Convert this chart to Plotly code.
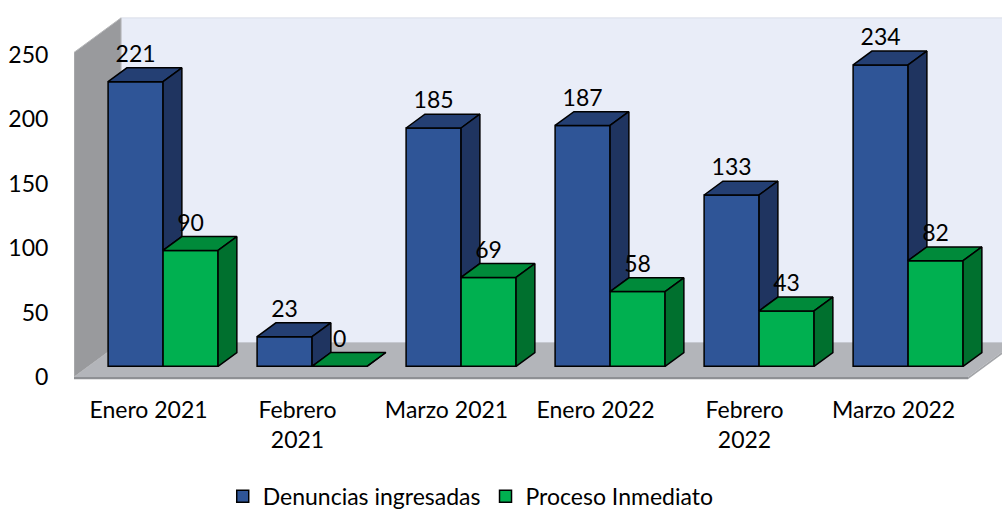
import plotly.graph_objects as go

# ---------------- data ----------------
categories = ["Enero 2021", "Febrero<br>2021", "Marzo 2021", "Enero 2022", "Febrero<br>2022", "Marzo 2022"]
denuncias = [221, 23, 185, 187, 133, 234]
proceso = [90, 0, 69, 58, 43, 82]
series_names = ["Denuncias ingresadas", "Proceso Inmediato"]
y_ticks = [0, 50, 100, 150, 200, 250]

# ---------------- styling / geometry ----------------
FONT = "Lato"
FS = 23
X0, X1 = -0.5, 5.728
Y0, Y1 = -3.1, 279.5
DX, DY = 0.3154, 26.8          # full depth of the 3D box (data units)
WALL_TOP = 252
F0, FD = 0.31, 0.40            # bar front position and bar depth (fraction of box depth)
BW = 0.369                     # bar width (category units)

blue = dict(front="#2F5597", top="#243F73", side="#1F3460")
green = dict(front="#00B050", top="#008A3A", side="#00702E")

base = F0 * DY
shift = F0 * DX
bdx, bdy = FD * DX, FD * DY
n = len(categories)

x_blue = [i + shift - BW / 2 for i in range(n)]
x_green = [i + shift + BW / 2 for i in range(n)]

fig = go.Figure()

# front faces as bars
fig.add_trace(go.Bar(x=x_blue, y=denuncias, base=[base] * n, width=BW, name=series_names[0],
                     marker=dict(color=blue["front"], line=dict(color="black", width=1.5)),
                     hoverinfo="skip"))
fig.add_trace(go.Bar(x=x_green, y=proceso, base=[base] * n, width=BW, name=series_names[1],
                     marker=dict(color=green["front"], line=dict(color="black", width=1.5)),
                     hoverinfo="skip"))


def poly(xs, ys, color):
    fig.add_trace(go.Scatter(x=xs + [xs[0]], y=ys + [ys[0]], mode="lines", fill="toself",
                             fillcolor=color, line=dict(color="black", width=1.5),
                             hoverinfo="skip", showlegend=False))


for i in range(n):
    v1, v2 = denuncias[i], proceso[i]
    # blue bar
    xl, xr = x_blue[i] - BW / 2, x_blue[i] + BW / 2
    yt = base + v1
    poly([xl, xr, xr + bdx, xl + bdx], [yt, yt, yt + bdy, yt + bdy], blue["top"])
    yb = base + min(v1, v2)
    poly([xr, xr, xr + bdx, xr + bdx], [yb, yt, yt + bdy, yb + bdy], blue["side"])
    # green bar
    xl, xr = x_green[i] - BW / 2, x_green[i] + BW / 2
    yt = base + v2
    poly([xl, xr, xr + bdx, xl + bdx], [yt, yt, yt + bdy, yt + bdy], green["top"])
    poly([xr, xr, xr + bdx, xr + bdx], [base, yt, yt + bdy, base + bdy], green["side"])

# data labels
for xs, vals in ((x_blue, denuncias), (x_green, proceso)):
    fig.add_trace(go.Scatter(x=xs, y=[base + v + bdy for v in vals], mode="text",
                             text=[str(v) for v in vals], textposition="top center",
                             textfont=dict(family=FONT, size=FS, color="black"),
                             hoverinfo="skip", showlegend=False, cliponaxis=False))


# walls and floor (chart frame)
def path(pts):
    return "M " + " L ".join(f"{x},{y}" for x, y in pts) + " Z"


L, R = X0, X0 + n
th = 1.7
shapes = [
    dict(path=path([(L + DX, DY), (R + DX, DY), (R + DX, WALL_TOP + DY), (L + DX, WALL_TOP + DY)]),
         fillcolor="#E9EDF8", line=dict(color="#D9DDE8", width=1)),
    dict(path=path([(L, 0), (L, WALL_TOP), (L + DX, WALL_TOP + DY), (L + DX, DY)]),
         fillcolor="#999A9D", line=dict(color="#B5B6B8", width=1)),
    dict(path=path([(L, 0), (R, 0), (R + DX, DY), (L + DX, DY)]),
         fillcolor="#B3B5BA", line=dict(width=0)),
    dict(path=path([(L, 0), (R, 0), (R, -th), (L, -th)]),
         fillcolor="#8E9094", line=dict(width=0)),
    dict(path=path([(R, 0), (R + DX, DY), (R + DX, DY - th), (R, -th)]),
         fillcolor="#A3A5A9", line=dict(width=0)),
]
for s in shapes:
    s.update(type="path", xref="x", yref="y", layer="below")

fig.update_layout(
    width=1002, height=516,
    margin=dict(l=74, r=0, t=17, b=135, autoexpand=False),
    paper_bgcolor="white", plot_bgcolor="white",
    barmode="overlay",
    shapes=shapes,
    font=dict(family=FONT, size=FS, color="black"),
    showlegend=True,
    legend=dict(orientation="h", x=0.4275, xanchor="center", y=-0.376, yanchor="bottom",
                font=dict(family=FONT, size=FS, color="black"), bgcolor="rgba(0,0,0,0)"),
    xaxis=dict(range=[X0, X1], tickvals=list(range(n)), ticktext=categories,
               showgrid=False, zeroline=False, showline=False, automargin=False,
               ticks="outside", ticklen=8, tickcolor="rgba(0,0,0,0)",
               tickfont=dict(family=FONT, size=FS, color="black"), fixedrange=True),
    yaxis=dict(range=[Y0, Y1], tickvals=y_ticks,
               showgrid=False, zeroline=False, showline=False, automargin=False,
               ticks="outside", ticklen=20, tickcolor="rgba(0,0,0,0)",
               tickfont=dict(family=FONT, size=FS, color="black"), fixedrange=True),
)

fig.write_html("out.html", config={"displayModeBar": False},
               post_script="document.body.style.margin='0';")
